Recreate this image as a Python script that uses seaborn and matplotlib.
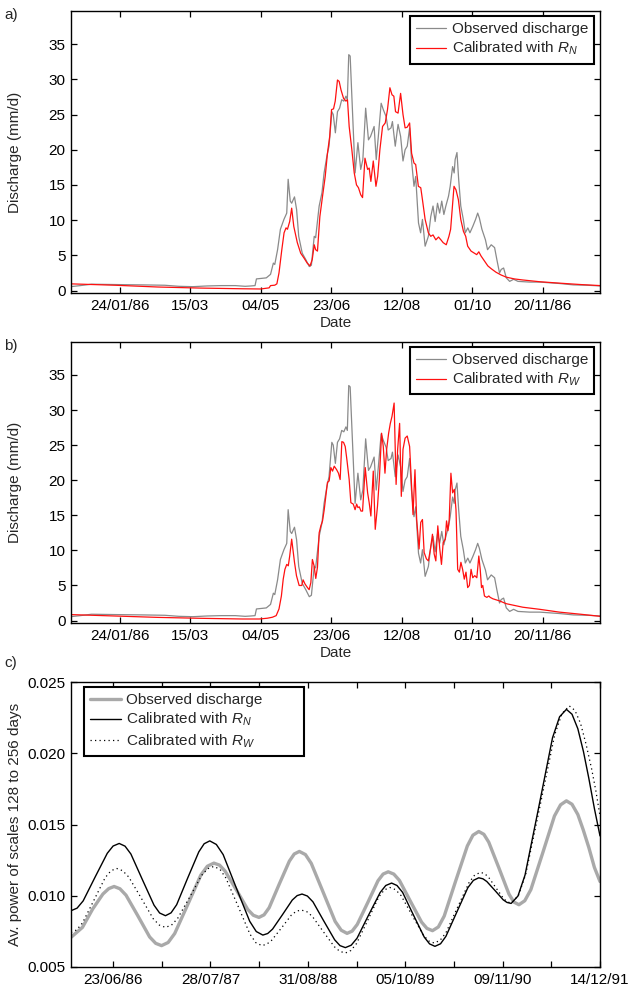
import matplotlib
matplotlib.use("Agg")
import matplotlib.pyplot as plt
import matplotlib.dates as mdates
import pandas as pd
import seaborn as sns

# ---------------- data ----------------
# panels a/b: days counted from 01/01/1986, discharge in mm/d
obs_day = [-12, -5, 3, 20, 40, 55, 65, 75, 85, 95, 105, 112, 116, 119, 120, 127, 130, 132, 133, 135,
           137, 139.5, 141.5, 142.5, 144, 145, 147, 148.5, 150, 152.5, 155, 157.5, 159, 161, 162, 164.5,
           166.5, 168, 170, 171.5, 173.5, 174.5, 176, 177.5, 179, 180.5, 182, 183.5, 184.5, 185.5, 186.5,
           188, 190, 192, 194, 195.5, 197.5, 199.5, 201, 203.5, 205, 206.5, 208.5, 210, 212, 213.5, 215.5,
           216.5, 218.5, 220.5, 222.3, 224, 225.5, 227, 228.7, 230, 231.8, 233, 235, 236.5, 237.8, 239.7,
           242, 243.7, 245.3, 246.8, 248.5, 250, 251.5, 253, 254.4, 256.3, 257.5, 259.2, 260.3, 261, 262.3,
           263.5, 265, 266.8, 268.2, 270, 271.5, 273.5, 275.5, 277, 278.2, 280, 282.5, 284, 286.6, 289,
           290.6, 292.5, 293.7, 295.4, 297.3, 299.7, 302.5, 305.6, 314, 321, 335, 345, 355, 364]
obs_q = [0.55, 0.7, 0.9, 0.85, 0.8, 0.75, 0.6, 0.55, 0.65, 0.7, 0.7, 0.6, 0.65, 0.7, 1.65, 1.8, 2.3, 3.9, 3.7, 5.8,
         8.7, 10.1, 11.0, 15.8, 12.7, 12.4, 13.3, 11.5, 7.7, 5.3, 4.4, 3.4, 3.6, 7.7, 7.5, 12.0,
         13.9, 16.7, 19.1, 20.5, 25.4, 25.0, 22.4, 25.4, 25.9, 27.1, 26.9, 27.6, 27.1, 33.5, 33.3,
         26.2, 16.7, 21.0, 17.2, 18.6, 25.9, 21.4, 21.9, 23.3, 18.6, 21.9, 26.6, 25.7, 24.7, 22.8, 23.1,
         24.0, 20.5, 23.6, 21.9, 18.4, 20.0, 20.5, 23.1, 18.6, 14.8, 16.2, 9.6, 8.2, 10.1, 6.3,
         7.7, 10.5, 12.0, 9.8, 12.4, 11.0, 12.7, 10.8, 12.0, 13.4, 14.8, 17.6, 16.7, 18.6, 19.6,
         15.8, 12.0, 10.1, 8.2, 8.9, 8.2, 9.1, 10.1, 11.0, 10.3, 8.7, 7.2, 5.8, 6.5, 6.1,
         4.4, 2.5, 3.0, 3.2, 1.8, 1.3, 1.6, 1.3, 1.2, 1.2, 1.0, 0.8, 0.75, 0.65]

rn_day = [-12, 20, 50, 80, 110, 123, 129, 130, 133, 134.5, 136, 138, 139.6, 141, 142, 143.6, 145, 146.5, 149,
          151.4, 153.8, 156, 158, 159.6, 161, 162, 163.3, 165, 166.9, 168.8, 170.4, 172, 173.3, 174.7, 175.9,
          177.5, 178.7, 180, 181.8, 183.5, 184.6, 185.8, 187.7, 189.4, 191, 192.4, 194, 195.3, 197, 198.9,
          200, 201.2, 202.9, 204.8, 206, 207.6, 209.5, 211.4, 213, 214.7, 216.2, 217.5, 218.7, 220.5, 222.3,
          224, 225.5, 227, 228.7, 230.1, 231.8, 233, 234.9, 236.6, 237.8, 239.7, 242, 243.7, 245.3, 247.3,
          249.2, 250.9, 252.5, 254.7, 256.6, 257.8, 258.9, 260.2, 261.6, 263.3, 265, 266.9, 268.5, 269.9,
          272.3, 274.7, 276.3, 277.8, 279.4, 281.8, 284.2, 286.6, 290, 293.7, 297.3, 303, 309, 321, 335,
          350, 364]
rn_q = [0.95, 0.75, 0.5, 0.35, 0.25, 0.22, 0.38, 0.7, 0.76, 0.95, 2.5, 5.8, 8.2, 8.9, 8.7, 9.8, 11.7, 9.1, 6.8,
        5.3, 4.6, 3.9, 3.5, 4.4, 6.5, 5.8, 5.6, 10.5, 13.4, 16.2, 19.5, 21.9, 25.7, 25.8, 26.9,
        29.9, 29.7, 28.5, 27.3, 26.9, 27.1, 23.3, 20.0, 16.7, 15.0, 14.6, 13.6, 13.2, 18.8, 17.2,
        17.4, 15.5, 18.4, 14.8, 16.2, 20.0, 23.3, 23.8, 25.7, 28.8, 27.8, 27.6, 25.4, 25.2, 28.0,
        25.0, 23.1, 23.2, 23.8, 19.5, 18.1, 17.9, 14.8, 14.6, 12.9, 10.1, 8.2, 7.7, 7.9, 7.2,
        7.6, 7.2, 6.8, 6.5, 7.7, 8.7, 11.5, 14.8, 14.3, 12.9, 10.1, 8.4, 7.7, 6.3,
        5.6, 5.3, 5.1, 5.5, 4.9, 4.2, 3.5, 3.1, 2.6, 2.2, 1.9, 1.65, 1.5, 1.25, 1.05,
        0.85, 0.7]

rw_day = [-12, 20, 50, 80, 110, 122, 127.7, 131.3, 134, 136, 137.7, 139, 140.2, 141.5, 142.6, 143.6, 145, 146,
          147, 148.4, 150.3, 152.2, 153.1, 154.5, 156.2, 157.4, 158.6, 159.7, 160.9, 162.1, 163.3, 164.5,
          165.7, 166.9, 168.1, 169.2, 170.4, 171.6, 172.8, 174, 175.2, 176.9, 178.2, 179.4, 180.6, 181.8,
          183, 184.2, 185.8, 187, 188.7, 190, 191.1, 192, 193, 194.2, 195.3, 197.2, 198.9, 200, 201.2,
          202.9, 204.3, 205.9, 207.2, 208.8, 210, 211.2, 212.4, 213.8, 215, 216.2, 217.7, 219.1, 220.2,
          221.6, 222.8, 224, 225.5, 227, 228.7, 229.9, 231.1, 232.5, 233.7, 235.4, 236.6, 237.8, 239,
          240.6, 242, 243.5, 244.9, 246.1, 247.3, 248.7, 250.1, 251.3, 252.5, 254, 254.9, 255.9, 256.8,
          258, 259.2, 260.4, 261.6, 262.8, 264, 265.1, 266.3, 267.5, 268.7, 269.9, 271.1, 272.3, 273.5,
          274.9, 276.4, 277.8, 278.8, 279.7, 280.6, 281.8, 283.5, 284.9, 285.9, 287.8, 292.5, 297.3, 309,
          321, 335, 350, 364]
rw_q = [0.85, 0.65, 0.45, 0.32, 0.22, 0.22, 0.33, 0.47, 0.7, 1.65, 3.5, 5.9, 7.3, 8.0, 7.8, 9.2, 11.6, 9.9,
        8.3, 6.4, 5.0, 5.0, 5.8, 5.2, 4.7, 4.4, 5.4, 8.7, 7.8, 6.0, 7.6, 12.5,
        13.5, 14.2, 15.8, 17.7, 19.7, 19.9, 21.8, 21.3, 22.0, 21.5, 21.0, 20.1, 25.5, 25.4,
        24.8, 22.9, 20.1, 16.8, 16.6, 15.8, 16.6, 16.1, 16.2, 15.6, 15.6, 21.8, 18.2, 16.8, 14.9,
        21.3, 13.0, 16.3, 20.1, 26.7, 24.8, 21.0, 24.4, 26.7, 28.1, 29.1, 31.0, 19.4, 24.4,
        28.1, 17.7, 24.4, 26.0, 26.3, 24.8, 20.1, 15.1, 21.5, 14.4, 10.2, 14.0, 14.4, 9.7,
        8.8, 8.5, 10.2, 12.3, 9.5, 8.5, 13.5, 10.2, 8.0, 11.1, 11.6, 14.2, 12.8, 14.4,
        21.0, 18.2, 18.7, 15.8, 7.3, 6.9, 8.3, 7.3, 5.9, 6.9, 4.7, 5.0, 7.3, 6.1,
        6.4, 6.1, 9.2, 7.3, 4.7, 5.0, 3.5, 3.3, 3.5, 3.3, 3.1, 2.8, 2.4, 1.9,
        1.6, 1.2, 0.9, 0.6]

# panel c: average wavelet power of scales 128-256 days (days from 01/01/1986)
pw_obs_day = [0, 47, 89, 131, 155, 177, 201, 226, 275, 323, 348, 372, 399, 426, 480, 533, 560, 587, 610, 633,
              680, 726, 749, 772, 793, 814, 855, 897, 917, 938, 963, 987, 1036, 1085, 1110, 1134, 1155, 1176,
              1219, 1261, 1282, 1303, 1326, 1349, 1394, 1440, 1462, 1485, 1509, 1533, 1580, 1628, 1651, 1675,
              1696, 1716, 1758, 1799, 1819, 1840, 1864, 1889, 1938, 1986, 2011, 2035, 2058, 2082, 2104, 2127,
              2150, 2173]
pw_obs = [0.00708, 0.00778, 0.00907, 0.01012, 0.01050, 0.01065, 0.01049, 0.01004, 0.00858, 0.00711,
          0.00666, 0.00650, 0.00672, 0.00735, 0.00940, 0.01144, 0.01207, 0.01229, 0.01215, 0.01173,
          0.01039, 0.00904, 0.00863, 0.00848, 0.00866, 0.00916, 0.01080, 0.01243, 0.01293, 0.01311,
          0.01289, 0.01227, 0.01024, 0.00820, 0.00758, 0.00736, 0.00752, 0.00799, 0.00952, 0.01105,
          0.01152, 0.01168, 0.01152, 0.01108, 0.00962, 0.00815, 0.00771, 0.00755, 0.00781, 0.00857,
          0.01103, 0.01349, 0.01425, 0.01451, 0.01431, 0.01376, 0.01194, 0.01012, 0.00956, 0.00937,
          0.00965, 0.01043, 0.01302, 0.01560, 0.01638, 0.01666, 0.01642, 0.01570, 0.01463, 0.01339,
          0.01199, 0.01100]
pw_rn_day = [0, 25, 50, 99, 149, 173, 198, 222, 246, 293, 341, 364, 388, 411, 434, 479, 525, 547, 570, 597,
             625, 679, 734, 761, 788, 808, 828, 869, 909, 929, 949, 971, 994, 1038, 1083, 1105, 1127, 1151,
             1175, 1222, 1270, 1293, 1317, 1339, 1362, 1406, 1451, 1473, 1495, 1518, 1540, 1585, 1630, 1653,
             1675, 1692, 1708, 1742, 1775, 1791, 1808, 1836, 1865, 1922, 1978, 2007, 2035, 2058, 2082, 2105,
             2127, 2150, 2173]
pw_rn = [0.00895, 0.00913, 0.00964, 0.01131, 0.01298, 0.01349, 0.01367, 0.01348, 0.01293, 0.01114,
         0.00934, 0.00879, 0.00860, 0.00880, 0.00937, 0.01123, 0.01308, 0.01365, 0.01385, 0.01360,
         0.01289, 0.01055, 0.00821, 0.00749, 0.00724, 0.00735, 0.00766, 0.00868, 0.00970, 0.01001,
         0.01012, 0.00998, 0.00957, 0.00824, 0.00691, 0.00650, 0.00636, 0.00653, 0.00702, 0.00863,
         0.01023, 0.01072, 0.01089, 0.01072, 0.01024, 0.00867, 0.00710, 0.00662, 0.00645, 0.00663,
         0.00715, 0.00886, 0.01056, 0.01108, 0.01126, 0.01119, 0.01100, 0.01036, 0.00972, 0.00953,
         0.00946, 0.00998, 0.01145, 0.01627, 0.02109, 0.02256, 0.02308, 0.02274, 0.02172, 0.02012,
         0.01825, 0.01612, 0.01420]
pw_rw_day = [0, 23, 47, 94, 140, 164, 187, 212, 237, 288, 338, 363, 388, 413, 438, 488, 537, 562, 587, 612,
             636, 686, 735, 759, 784, 804, 824, 865, 905, 925, 945, 968, 991, 1036, 1082, 1104, 1127, 1150,
             1173, 1219, 1264, 1287, 1310, 1333, 1356, 1401, 1447, 1469, 1492, 1516, 1540, 1587, 1635, 1658,
             1682, 1698, 1714, 1745, 1777, 1792, 1808, 1838, 1868, 1928, 1987, 2017, 2047, 2070, 2093, 2116,
             2139, 2156, 2173]
pw_rw = [0.00743, 0.00760, 0.00809, 0.00968, 0.01126, 0.01175, 0.01192, 0.01176, 0.01132, 0.00985,
         0.00838, 0.00794, 0.00778, 0.00794, 0.00841, 0.00992, 0.01144, 0.01190, 0.01206, 0.01185,
         0.01125, 0.00928, 0.00731, 0.00671, 0.00650, 0.00660, 0.00687, 0.00775, 0.00864, 0.00891,
         0.00900, 0.00889, 0.00856, 0.00749, 0.00642, 0.00610, 0.00598, 0.00616, 0.00665, 0.00828,
         0.00991, 0.01041, 0.01058, 0.01043, 0.01001, 0.00863, 0.00725, 0.00683, 0.00668, 0.00687,
         0.00740, 0.00916, 0.01092, 0.01145, 0.01164, 0.01156, 0.01133, 0.01057, 0.00980, 0.00957,
         0.00949, 0.01002, 0.01151, 0.01641, 0.02130, 0.02279, 0.02332, 0.02301, 0.02210, 0.02062,
         0.01887, 0.01736, 0.01560]

ab_tick_dates = ["1986-01-24", "1986-03-15", "1986-05-04", "1986-06-23", "1986-08-12", "1986-10-01", "1986-11-20"]
ab_tick_labels = ["24/01/86", "15/03", "04/05", "23/06", "12/08", "01/10", "20/11/86"]
c_tick_dates = ["1986-06-23", "1987-01-09", "1987-07-28", "1988-02-13", "1988-08-31", "1989-03-19",
                "1989-10-05", "1990-04-23", "1990-11-09", "1991-05-28", "1991-12-14"]
c_tick_labels = ["23/06/86", "", "28/07/87", "", "31/08/88", "", "05/10/89", "", "09/11/90", "", "14/12/91"]
c_yticks = [0.005, 0.010, 0.015, 0.020, 0.025]
c_yticklabels = ["0.005", "0.010", "0.015", "0.020", "0.025"]

# ---------------- style ----------------
sns.set_theme(style="ticks")
plt.rcParams["font.family"] = ["Liberation Sans", "DejaVu Sans"]
plt.rcParams["mathtext.fontset"] = "custom"
plt.rcParams["mathtext.it"] = "Liberation Sans:italic"
plt.rcParams["mathtext.rm"] = "Liberation Sans"
FS = 11

t0 = pd.Timestamp("1986-01-01")


def to_dates(days):
    return t0 + pd.to_timedelta(days, unit="D")


def frame_axis(ax):
    for s in ax.spines.values():
        s.set_color("black")
        s.set_linewidth(1.0)
    ax.tick_params(direction="in", top=True, right=True, length=4.5, width=0.9,
                   labelsize=FS, colors="black", pad=4)


W, H = 630, 991
fig = plt.figure(figsize=(W / 100, H / 100), dpi=100)


def px_axes(left, top, right, bottom):
    return fig.add_axes([left / W, 1 - bottom / H, (right - left) / W, (bottom - top) / H])


ax_a = px_axes(71, 11, 600, 293)
ax_b = px_axes(71, 342, 600, 623)
ax_c = px_axes(71, 682, 600, 967)

obs_df = pd.DataFrame({"date": to_dates(obs_day), "q": obs_q})
panels = [(ax_a, rn_day, rn_q, r"Calibrated with $R_N$"),
          (ax_b, rw_day, rw_q, r"Calibrated with $R_W$")]
for ax, d, q, lab in panels:
    sim_df = pd.DataFrame({"date": to_dates(d), "q": q})
    sns.lineplot(data=obs_df, x="date", y="q", ax=ax, color="#8a8a8a", linewidth=0.9,
                 estimator=None, sort=False, label="Observed discharge")
    sns.lineplot(data=sim_df, x="date", y="q", ax=ax, color="#ff1010", linewidth=0.9,
                 estimator=None, sort=False, label=lab)
    ax.set_xlim(t0 + pd.Timedelta(days=-11.6), t0 + pd.Timedelta(days=363.8))
    ax.set_ylim(-0.35, 39.7)
    ax.set_yticks([0, 5, 10, 15, 20, 25, 30, 35])
    ax.set_xticks(mdates.date2num(pd.to_datetime(ab_tick_dates)))
    ax.set_xticklabels(ab_tick_labels)
    frame_axis(ax)
    ax.set_ylabel("Discharge (mm/d)", fontsize=FS)
    ax.yaxis.set_label_coords(-0.093, 0.5)
    ax.set_xlabel("Date", fontsize=FS)
    ax.xaxis.set_label_coords(0.5, -0.083)
    leg = ax.legend(loc="upper right", bbox_to_anchor=(0.989, 0.982), borderaxespad=0,
                    fontsize=FS, frameon=True, fancybox=False, framealpha=1, edgecolor="black",
                    handlelength=2.0, handletextpad=0.35, labelspacing=0.25, borderpad=0.4)
    leg.get_frame().set_linewidth(1.5)

sns.lineplot(x=to_dates(pw_obs_day), y=pw_obs, ax=ax_c, color="#a9a9a9", linewidth=2.4,
             estimator=None, sort=False, label="Observed discharge")
sns.lineplot(x=to_dates(pw_rn_day), y=pw_rn, ax=ax_c, color="black", linewidth=1.0,
             estimator=None, sort=False, label=r"Calibrated with $R_N$")
sns.lineplot(x=to_dates(pw_rw_day), y=pw_rw, ax=ax_c, color="black", linewidth=0.9,
             linestyle=(0, (1, 2.6)), estimator=None, sort=False, label=r"Calibrated with $R_W$")
for ln in ax_c.get_lines():
    ln.set_solid_joinstyle("round")
ax_c.set_xlim(t0, pd.Timestamp("1991-12-14"))
ax_c.set_ylim(0.005, 0.025)
ax_c.set_yticks(c_yticks)
ax_c.set_yticklabels(c_yticklabels)
ax_c.set_xticks(mdates.date2num(pd.to_datetime(c_tick_dates)))
ax_c.set_xticklabels(c_tick_labels)
frame_axis(ax_c)
ax_c.set_xlabel("")
ax_c.set_ylabel("Av. power of scales 128 to 256 days", fontsize=FS)
ax_c.yaxis.set_label_coords(-0.093, 0.5)
leg = ax_c.legend(loc="upper left", bbox_to_anchor=(0.0246, 0.70, 0.4159, 0.282), mode="expand",
                  borderaxespad=0, fontsize=FS, frameon=True, fancybox=False, framealpha=1,
                  edgecolor="black", handlelength=2.0, handletextpad=0.35, labelspacing=0.25,
                  borderpad=0.4)
leg.get_frame().set_linewidth(1.5)

fig.text(4 / W, 1 - 15 / H, "a)", fontsize=FS, va="center", ha="left")
fig.text(4 / W, 1 - 346 / H, "b)", fontsize=FS, va="center", ha="left")
fig.text(4 / W, 1 - 663 / H, "c)", fontsize=FS, va="center", ha="left")

fig.savefig("out.png", dpi=100)
